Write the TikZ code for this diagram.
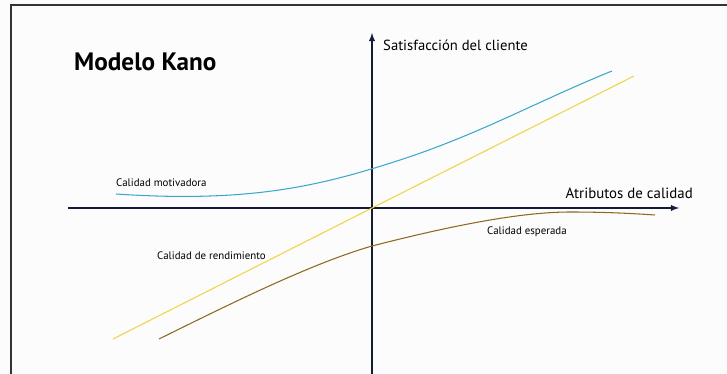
\documentclass[tikz,border=0pt]{standalone}
\usepackage{fontspec}
\setmainfont{PT Sans}
\usetikzlibrary{positioning}
\tikzset{>=latex}
\definecolor{axisnavy}{HTML}{141B3A}
\definecolor{motivblue}{HTML}{3BA9CC}
\definecolor{rendyellow}{HTML}{F2D445}
\definecolor{espbrown}{HTML}{8C6A1E}
\definecolor{paper}{HTML}{FCFCFC}
\tikzset{axis line/.style = {draw=axisnavy, line width=1.4pt, ->},
         curve line/.style = {line width=0.9pt},
         small label/.style = {font=\fontsize{9.3}{11}\selectfont, inner sep=0pt}}

\begin{document}
\begin{tikzpicture}[x=0.03cm, y=-0.03cm]
		% Frame
		\useasboundingbox (0,0) rectangle (727,374);
		\fill[paper] (0,0) rectangle (727,374);
		\draw[black!80, line width=1.2pt] (11,374) -- (11,5) -- (727,5);

		% Axis
		\coordinate (o) at (372,208);
		\coordinate (xleft) at (68,208);
		\coordinate (xright) at (679,208);
		\coordinate (ybottom) at (372,374);
		\coordinate (ytop) at (372,33);
		\draw[axis line] (xleft) -- (xright);
		\draw[axis line] (ybottom) -- (ytop);

		% Title and axis labels
		\node[anchor=west, inner sep=0pt, font=\fontsize{21.5}{26}\bfseries] (title) at (74,62) {Modelo Kano};
		\node[anchor=west, inner sep=0pt, font=\fontsize{12.5}{14}\selectfont] (ylabel) at (383,45) {Satisfacción del cliente};
		\node[anchor=east, inner sep=0pt, font=\fontsize{12.7}{14}\selectfont] (xlabel) at (693,193) {Atributos de calidad};

		% Curves
		%%motivadora
		\draw[motivblue, curve line] (116,194) .. controls (250,203) and (320,186) .. (400,160)
			.. controls (480,134) and (540,100) .. (612,71);
		%%rendimiento
		\draw[rendyellow, curve line] (113,339) -- (o) -- (634,76);
		%%esperada
		\draw[espbrown, curve line] (159,339) .. controls (230,304) and (310,264) .. (372,246)
			.. controls (450,226) and (520,212) .. (570,212) .. controls (610,212) and (640,214) .. (655,215);

		% Curve labels
		\node[small label, anchor=west] (motiv) at (116,183) {Calidad motivadora};
		\node[small label, anchor=west] (rend) at (157,256) {Calidad de rendimiento};
		\node[small label, anchor=west] (esp) at (487,232) {Calidad esperada};
	\end{tikzpicture}
\end{document}
